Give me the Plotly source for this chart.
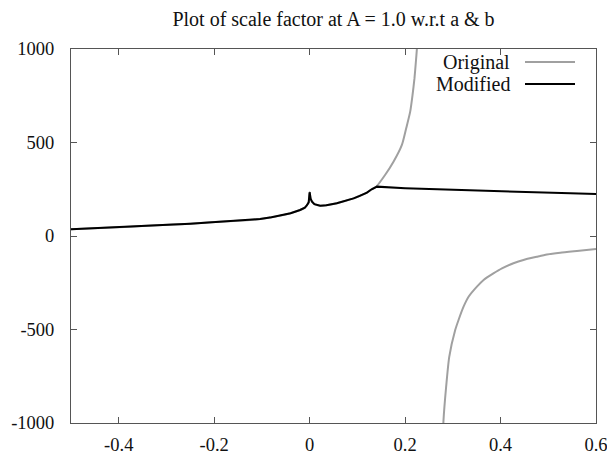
import plotly.graph_objects as go

# Modified curve (black)
mod_x = [-0.5, -0.45, -0.4, -0.35, -0.2855, -0.25, -0.2086, -0.15, -0.125, -0.1038, -0.08,
         -0.062, -0.04, -0.02, -0.01, -0.006, -0.002, 0.0,
         0.002, 0.005, 0.01, 0.022, 0.035, 0.057, 0.075, 0.092, 0.105, 0.12, 0.13, 0.139,
         0.141, 0.2, 0.3, 0.364, 0.4, 0.5, 0.546, 0.6]
mod_y = [36, 41, 47, 53, 61, 66, 73, 81, 86, 91, 100,
         109, 122, 139, 152, 163, 180, 234,
         200, 184, 170, 162, 165, 175, 188, 201, 215, 232, 250, 262,
         264, 256, 247, 242, 239, 231, 228, 225]

# Original curve (gray): left part coincides with Modified, then diverges at a pole
orig_x = [-0.5, -0.45, -0.4, -0.35, -0.2855, -0.25, -0.2086, -0.15, -0.125, -0.1038, -0.08,
          -0.062, -0.04, -0.02, -0.01, -0.006, -0.002, 0.0,
          0.002, 0.005, 0.01, 0.022, 0.035, 0.057, 0.075, 0.092, 0.105, 0.12, 0.13, 0.139,
          0.158, 0.1757, 0.1933, 0.2023, 0.2107, 0.2156, 0.2197, 0.2226, 0.2247, 0.2262,
          None,
          0.2795, 0.2805, 0.286, 0.2925, 0.305, 0.312, 0.3225, 0.333, 0.3505, 0.3645, 0.385,
          0.403, 0.427, 0.448, 0.476, 0.497, 0.525, 0.56, 0.6]
orig_y = [36, 41, 47, 53, 61, 66, 73, 81, 86, 91, 100,
          109, 122, 139, 152, 163, 180, 234,
          200, 184, 170, 162, 165, 175, 188, 201, 215, 232, 250, 262,
          326, 397, 487, 576, 665, 754, 844, 932, 1000, 1080,
          None,
          -1060, -984, -806, -646, -503, -449, -378, -325, -271, -235, -200,
          -173, -146, -128, -111, -99, -89, -80, -70]

x_ticks = [-0.4, -0.2, 0, 0.2, 0.4, 0.6]
x_tick_text = ["-0.4", "-0.2", "0", "0.2", "0.4", "0.6"]
y_ticks = [-1000, -500, 0, 500, 1000]
y_tick_text = ["-1000", "-500", "0", "500", "1000"]

title_text = "Plot of scale factor at A = 1.0 w.r.t a & b"
legend_names = ["Original", "Modified"]
line_colors = ["#a0a0a0", "#000000"]

FONT = "Liberation Serif"

W, H = 607, 456
PL, PR, PT, PB = 71, 596, 49, 423  # plot box in page px

fig = go.Figure()
fig.add_trace(go.Scatter(x=orig_x, y=orig_y, mode="lines", name=legend_names[0],
                         line=dict(color=line_colors[0], width=2, shape="spline", smoothing=0.6),
                         connectgaps=False, showlegend=False, hoverinfo="skip"))
fig.add_trace(go.Scatter(x=mod_x, y=mod_y, mode="lines", name=legend_names[1],
                         line=dict(color=line_colors[1], width=2),
                         showlegend=False, hoverinfo="skip"))

axis_common = dict(showgrid=False, zeroline=False, showline=True, mirror="allticks",
                   linecolor="#555555", linewidth=1, ticks="inside", ticklen=6,
                   tickcolor="#555555", automargin=False, ticklabeloverflow="allow",
                   tickfont=dict(family=FONT, size=18.5, color="#111111"))

fig.update_xaxes(range=[-0.5, 0.6], tickvals=x_ticks, ticktext=x_tick_text,
                 ticklabelstandoff=5, **axis_common)
fig.update_yaxes(range=[-1000, 1000], tickvals=y_ticks, ticktext=y_tick_text,
                 ticklabelstandoff=12, **axis_common)

# Legend drawn gnuplot-style: text on the left, line sample on the right
legend_rows = [62, 84]
for name, col, ypix in zip(legend_names, line_colors, legend_rows):
    yp = 1 - (ypix - PT) / (PB - PT)
    fig.add_annotation(x=(512 - PL) / (PR - PL), y=yp, xref="paper", yref="paper",
                       text=name, showarrow=False, xanchor="right", yanchor="middle",
                       font=dict(family=FONT, size=20, color="#111111"))
    fig.add_shape(type="line", xref="paper", yref="paper",
                  x0=(525 - PL) / (PR - PL), x1=(575 - PL) / (PR - PL), y0=yp, y1=yp,
                  line=dict(color=col, width=2))

fig.update_layout(
    width=W, height=H,
    margin=dict(l=PL, r=W - PR, t=PT, b=H - PB, pad=0),
    paper_bgcolor="white", plot_bgcolor="white",
    font=dict(family=FONT, color="#111111"),
    hovermode=False,
    title=dict(text=title_text, x=(PL + PR) / 2 / W, xanchor="center",
               xref="container", yref="container",
               y=1 - 19 / H, yanchor="middle",
               font=dict(family=FONT, size=20, color="#111111")),
)

# remove the default page margin so the figure sits at the window's top-left corner
fig.write_html("out.html",
               config={"displayModeBar": False, "staticPlot": True},
               post_script="document.body.style.margin='0';document.body.style.overflow='hidden';")
